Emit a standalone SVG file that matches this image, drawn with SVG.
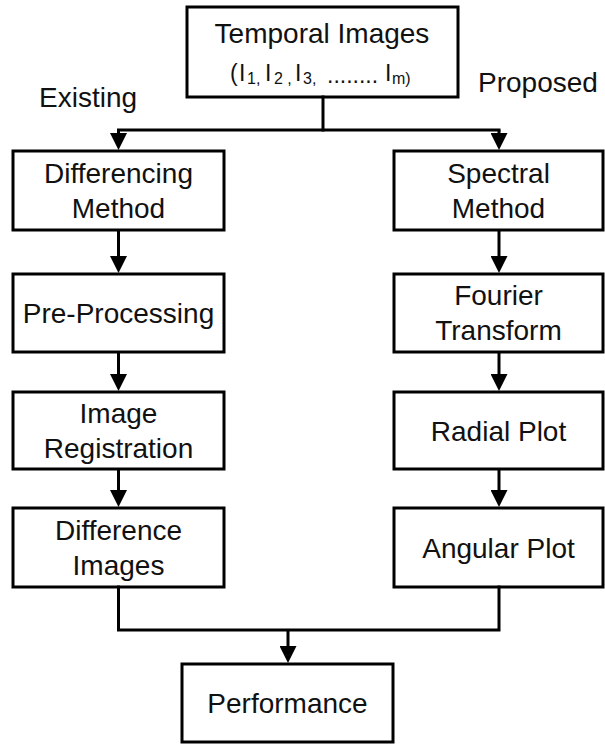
<svg xmlns="http://www.w3.org/2000/svg" width="605" height="750" viewBox="0 0 605 750">
  <style>
    .box { fill: #ffffff; stroke: #000000; stroke-width: 3; }
    .lbl { font-family: "Liberation Sans", Arial, sans-serif; font-size: 28px; fill: #111111; text-anchor: middle; }
    .side { font-family: "Liberation Sans", Arial, sans-serif; font-size: 28px; fill: #111111; }
    .set { font-family: "Liberation Sans", Arial, sans-serif; font-size: 23px; fill: #111111; }
    .sub { font-size: 16px; }
    .wire { fill: none; stroke: #000000; stroke-width: 3; stroke-linecap: square; }
    .arrow { fill: none; stroke: #000000; stroke-width: 3; marker-end: url(#head); }
  </style>
  <defs>
    <marker id="head" markerUnits="userSpaceOnUse" markerWidth="17" markerHeight="17" refX="12" refY="8.5" orient="auto">
      <path d="M0,0 L17,8.5 L0,17 Z" fill="#000000"/>
    </marker>
  </defs>

  <rect width="605" height="750" fill="#ffffff"/>

  <!-- branch labels -->
  <text class="side" x="39" y="107">Existing</text>
  <text class="side" x="478" y="92">Proposed</text>

  <!-- source node -->
  <g id="temporal-images">
    <rect class="box" x="187" y="7" width="271" height="90"/>
    <text class="lbl" x="322" y="43">Temporal Images</text>
    <text class="set" y="81"><tspan x="230">(</tspan><tspan x="239">I</tspan><tspan class="sub" x="247" y="84">1,</tspan><tspan x="265" y="81">I</tspan><tspan class="sub" x="274" y="84">2 ,</tspan><tspan x="295" y="81">I</tspan><tspan class="sub" x="303" y="84">3,</tspan><tspan x="327" y="83">........</tspan><tspan x="385" y="81">I</tspan><tspan class="sub" x="392" y="84">m)</tspan></text>
  </g>

  <!-- existing branch -->
  <g id="differencing-method">
    <rect class="box" x="13" y="151" width="211" height="79"/>
    <text class="lbl" x="118.5" y="182.5">Differencing</text>
    <text class="lbl" x="118.5" y="217.5">Method</text>
  </g>
  <g id="pre-processing">
    <rect class="box" x="13" y="274" width="211" height="78"/>
    <text class="lbl" x="118.5" y="323">Pre-Processing</text>
  </g>
  <g id="image-registration">
    <rect class="box" x="13" y="392" width="211" height="77"/>
    <text class="lbl" x="118.5" y="422.5">Image</text>
    <text class="lbl" x="118.5" y="457.5">Registration</text>
  </g>
  <g id="difference-images">
    <rect class="box" x="13" y="508" width="211" height="79"/>
    <text class="lbl" x="118.5" y="539.5">Difference</text>
    <text class="lbl" x="118.5" y="574.5">Images</text>
  </g>

  <!-- proposed branch -->
  <g id="spectral-method">
    <rect class="box" x="394" y="151" width="209" height="79"/>
    <text class="lbl" x="498.5" y="182.5">Spectral</text>
    <text class="lbl" x="498.5" y="217.5">Method</text>
  </g>
  <g id="fourier-transform">
    <rect class="box" x="394" y="274" width="209" height="78"/>
    <text class="lbl" x="498.5" y="305">Fourier</text>
    <text class="lbl" x="498.5" y="340">Transform</text>
  </g>
  <g id="radial-plot">
    <rect class="box" x="394" y="392" width="209" height="77"/>
    <text class="lbl" x="498.5" y="440.5">Radial Plot</text>
  </g>
  <g id="angular-plot">
    <rect class="box" x="394" y="508" width="209" height="79"/>
    <text class="lbl" x="498.5" y="557.5">Angular Plot</text>
  </g>

  <!-- sink node -->
  <g id="performance">
    <rect class="box" x="182" y="664" width="211" height="78"/>
    <text class="lbl" x="287.5" y="713">Performance</text>
  </g>

  <!-- connectors -->
  <g id="connectors">
    <path class="wire" d="M323,97 V130"/>
    <path class="wire" d="M118.5,130 H499"/>
    <path class="arrow" d="M118.5,130 V145"/>
    <path class="arrow" d="M499,130 V145"/>

    <path class="arrow" d="M118.5,230 V268"/>
    <path class="arrow" d="M118.5,352 V386"/>
    <path class="arrow" d="M118.5,469 V502"/>

    <path class="arrow" d="M499,230 V268"/>
    <path class="arrow" d="M499,352 V386"/>
    <path class="arrow" d="M499,469 V502"/>

    <path class="wire" d="M118.5,587 V630 H499 V587"/>
    <path class="arrow" d="M288,630 V658"/>
  </g>
</svg>
